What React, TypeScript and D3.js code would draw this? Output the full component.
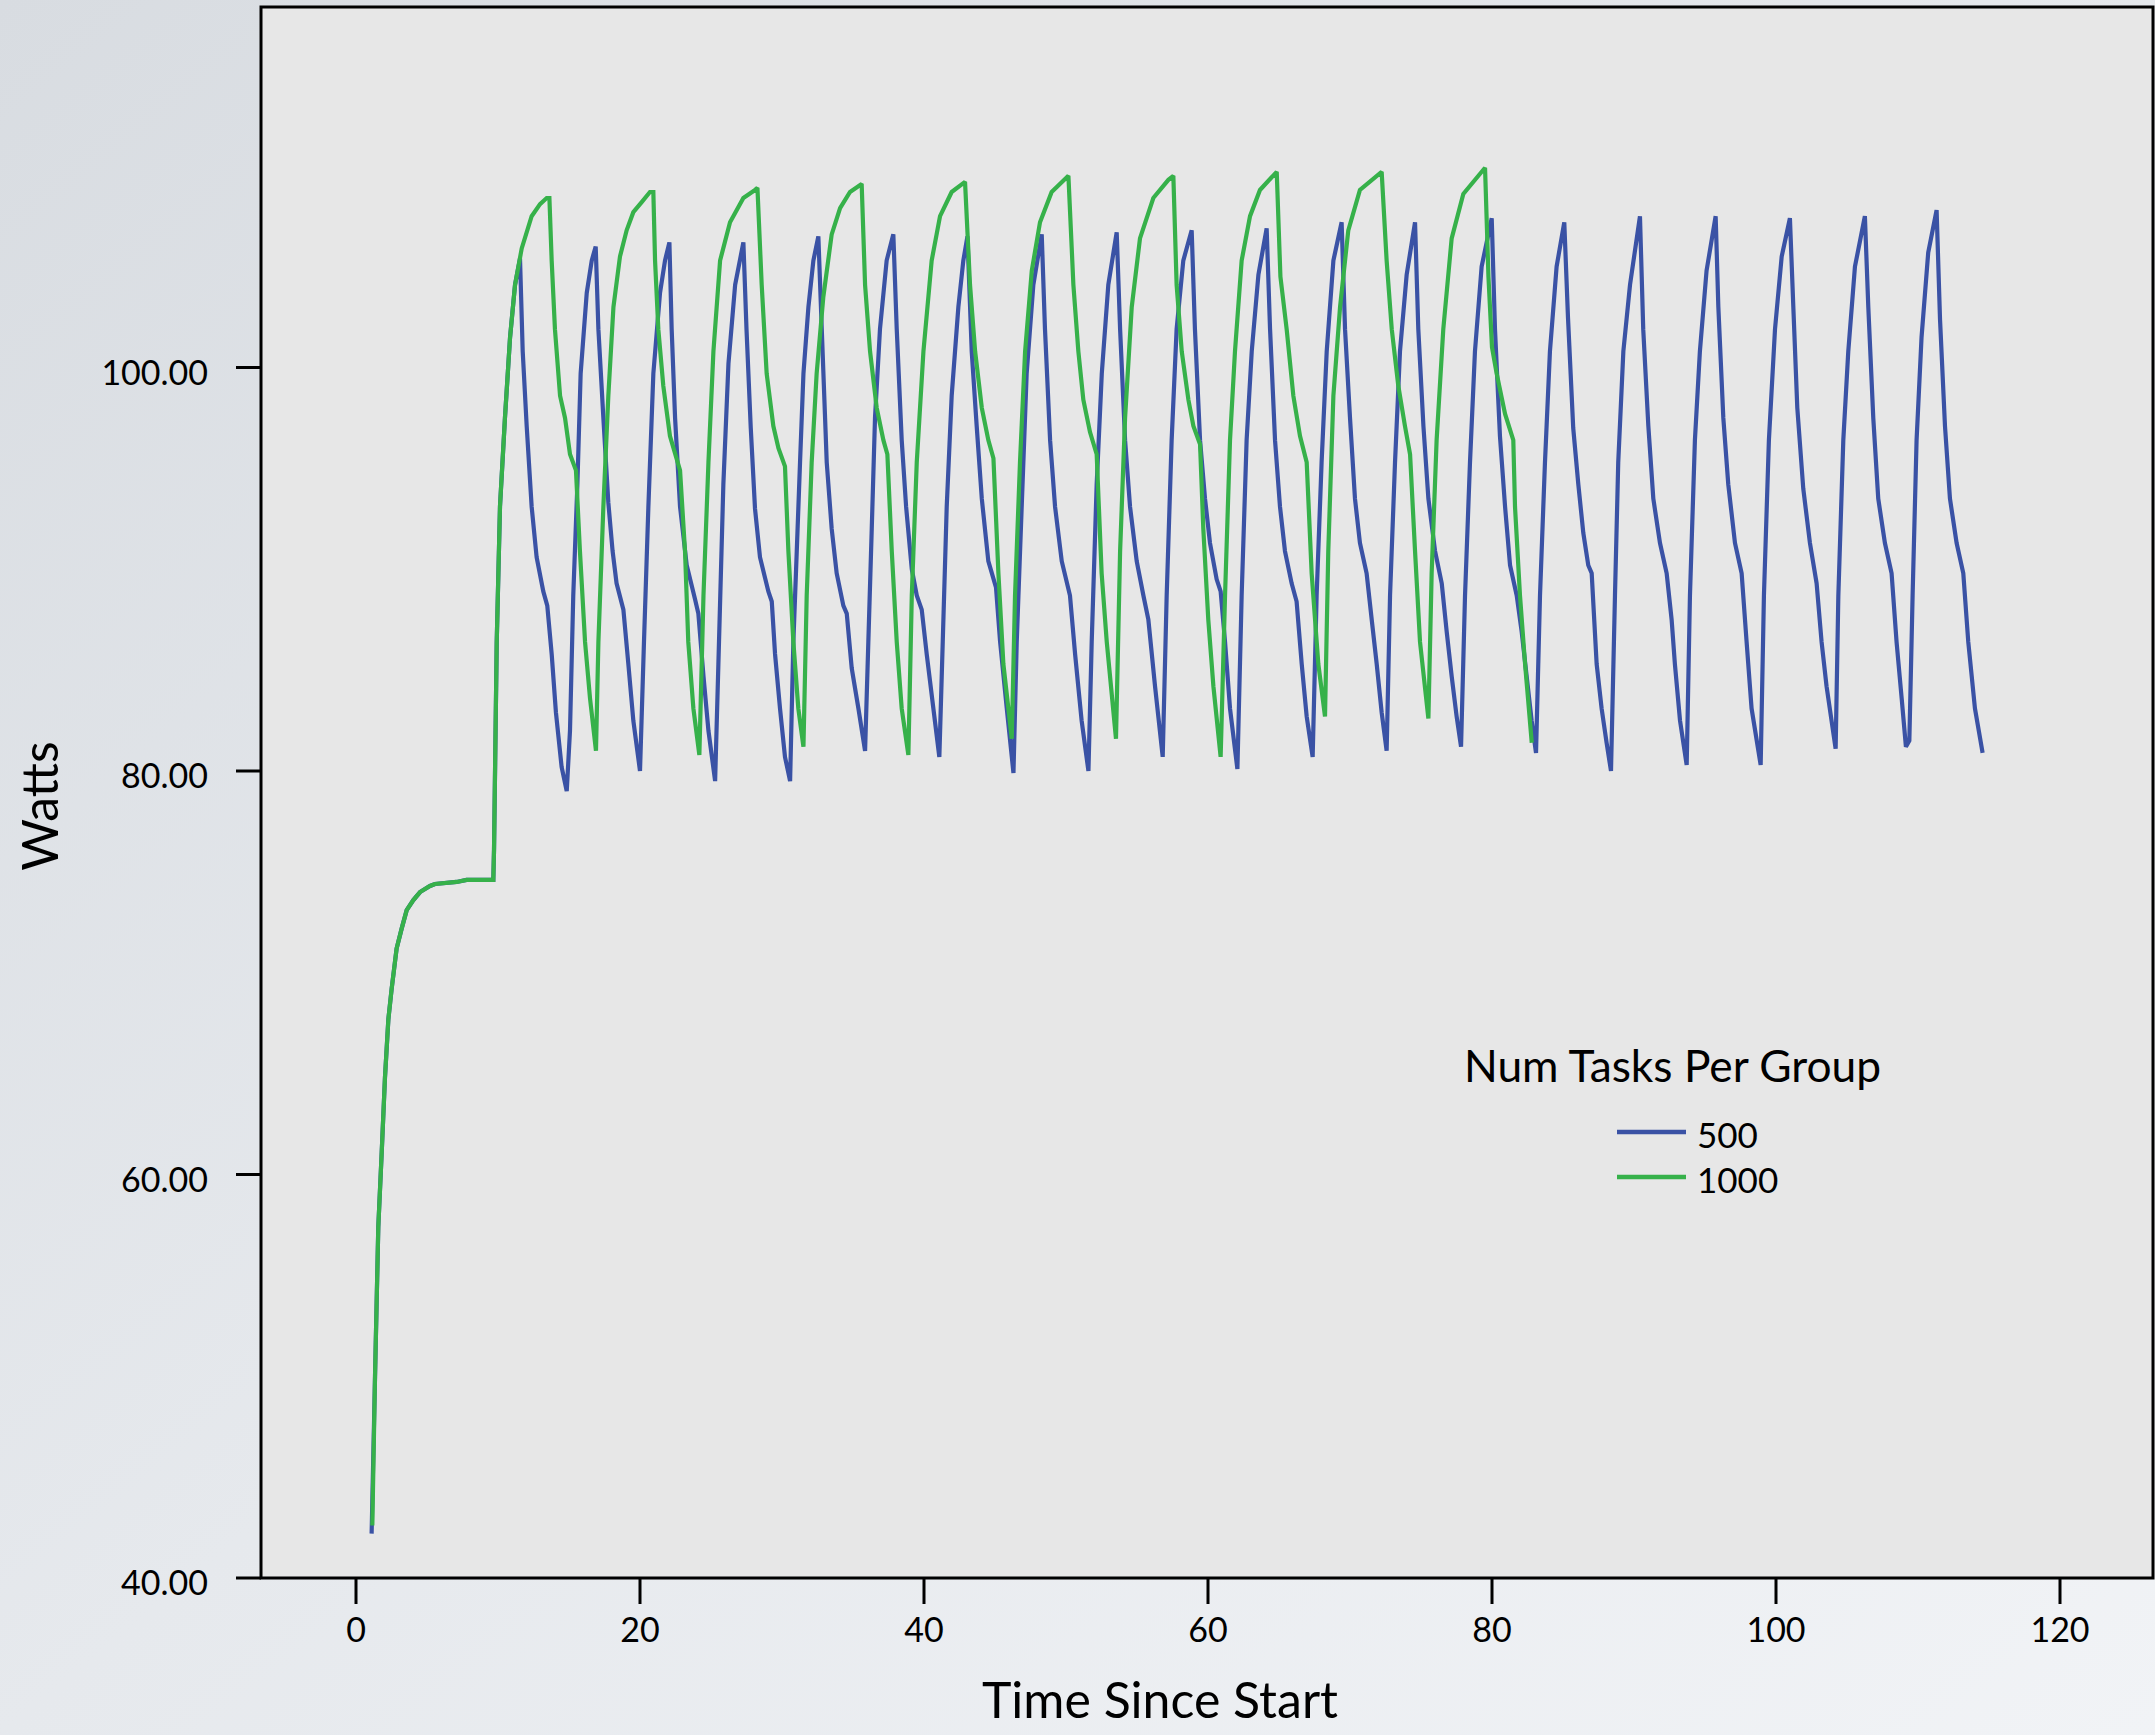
import React, { useEffect } from "react";
import * as d3 from "d3";

// ---- Data ----
const seriesNames = ["500", "1000"];
const xTicks = [0, 20, 40, 60, 80, 100, 120];
const yTicks = [40, 60, 80, 100];

const warmup: [number, number][] = [
  [1.34, 50.0], [1.57, 57.4], [1.81, 61.1], [2.04, 64.8], [2.28, 67.7], [2.51, 69.2],
  [2.86, 71.2], [3.22, 72.2], [3.57, 73.1], [4.04, 73.6], [4.51, 74.0], [5.21, 74.3],
  [5.56, 74.4], [7.09, 74.5], [7.79, 74.6], [8.97, 74.6], [9.67, 74.6], [9.72, 76.1],
  [9.91, 86.4], [10.14, 93.1], [10.49, 97.5], [10.85, 101.5], [11.2, 104.1],
];

const watts500: [number, number][] = [
  [1.1, 42.2], ...warmup, [11.55, 105.4],
  [11.74, 100.8], [12.02, 97.1], [12.37, 93.1], [12.72, 90.6], [13.19, 88.9], [13.47, 88.2], [13.78, 85.8], [14.08, 82.9], [14.48, 80.2], [14.84, 79.0],
  [15.07, 82.0], [15.3, 88.7], [15.59, 94.2], [15.82, 99.7], [16.25, 103.7], [16.6, 105.3], [16.88, 106.0],
  [17.07, 101.9], [17.42, 97.5], [17.77, 93.3], [18.07, 90.9], [18.35, 89.3], [18.83, 88.0], [19.18, 85.3], [19.53, 82.5], [20.0, 80.0],
  [20.28, 86.4], [20.59, 93.1], [20.94, 99.7], [21.41, 103.7], [21.76, 105.3], [22.07, 106.2],
  [22.23, 101.9], [22.47, 97.5], [22.82, 93.1], [23.29, 90.2], [23.88, 88.5], [24.11, 87.8], [24.47, 84.7], [24.82, 82.0], [25.29, 79.5],
  [25.52, 85.3], [25.87, 94.2], [26.23, 100.2], [26.7, 104.1], [27.28, 106.2],
  [27.5, 101.9], [27.8, 97.0], [28.1, 93.0], [28.45, 90.6], [29.04, 88.9], [29.28, 88.4], [29.51, 85.8], [29.86, 83.1], [30.21, 80.7], [30.57, 79.5],
  [30.8, 86.4], [31.04, 90.9], [31.27, 95.3], [31.51, 99.7], [31.86, 103.0], [32.21, 105.3], [32.56, 106.5],
  [32.8, 101.9], [33.15, 95.3], [33.5, 92.0], [33.85, 89.8], [34.32, 88.2], [34.56, 87.8], [34.91, 85.1], [35.38, 83.1], [35.85, 81.0],
  [36.08, 86.4], [36.32, 92.0], [36.55, 97.5], [36.9, 101.9], [37.37, 105.3], [37.84, 106.6],
  [38.08, 101.9], [38.43, 96.4], [38.74, 93.1], [39.14, 90.0], [39.49, 88.7], [39.84, 88.0], [40.19, 85.8], [40.66, 83.1], [41.08, 80.7],
  [41.32, 86.4], [41.6, 93.1], [41.95, 98.6], [42.42, 103.0], [42.77, 105.3], [43.06, 106.5],
  [43.36, 100.8], [43.71, 97.1], [44.07, 93.5], [44.53, 90.4], [45.07, 89.1], [45.36, 86.4], [45.83, 83.1], [46.3, 79.9],
  [46.53, 86.4], [46.88, 93.1], [47.23, 99.7], [47.7, 104.1], [48.29, 106.6],
  [48.52, 101.9], [48.88, 96.4], [49.23, 93.1], [49.7, 90.4], [50.28, 88.7], [50.64, 85.8], [51.1, 82.5], [51.58, 80.0],
  [51.81, 86.4], [52.16, 94.2], [52.52, 99.7], [52.98, 104.1], [53.57, 106.7],
  [53.81, 101.9], [54.16, 96.4], [54.51, 93.1], [54.98, 90.4], [55.45, 88.7], [55.8, 87.5], [56.27, 84.2], [56.81, 80.7],
  [57.09, 88.7], [57.44, 96.4], [57.79, 101.9], [58.26, 105.3], [58.85, 106.8],
  [59.08, 101.9], [59.44, 96.4], [59.79, 93.5], [60.14, 91.3], [60.61, 89.5], [60.89, 88.9], [61.2, 86.4], [61.55, 83.1], [62.07, 80.1],
  [62.37, 88.7], [62.72, 96.4], [63.08, 100.8], [63.55, 104.6], [64.13, 106.9],
  [64.37, 101.9], [64.72, 96.4], [65.07, 93.1], [65.42, 90.9], [65.89, 89.3], [66.24, 88.4], [66.6, 85.3], [66.95, 82.7], [67.37, 80.7],
  [67.65, 88.7], [68.0, 95.3], [68.36, 100.8], [68.83, 105.3], [69.41, 107.2],
  [69.65, 101.9], [70.0, 97.5], [70.35, 93.5], [70.7, 91.3], [71.17, 89.8], [71.53, 87.5], [71.88, 85.3], [72.23, 82.9], [72.58, 81.0],
  [72.82, 88.7], [73.17, 95.3], [73.52, 100.8], [73.99, 104.6], [74.58, 107.2],
  [74.81, 101.9], [75.17, 97.1], [75.52, 93.5], [75.99, 90.9], [76.46, 89.3], [76.81, 86.9], [77.16, 84.7], [77.51, 82.7], [77.82, 81.2],
  [78.1, 88.7], [78.45, 95.3], [78.8, 100.8], [79.27, 105.0], [79.98, 107.4],
  [80.21, 101.9], [80.56, 96.6], [80.92, 93.1], [81.27, 90.2], [81.74, 88.7], [82.09, 86.9], [82.44, 84.7], [82.79, 82.5], [83.1, 80.9],
  [83.38, 88.7], [83.73, 95.3], [84.08, 100.8], [84.55, 105.0], [85.09, 107.2],
  [85.35, 102.5], [85.72, 97.0], [86.08, 94.2], [86.43, 91.8], [86.78, 90.2], [87.02, 89.8], [87.37, 85.3], [87.72, 83.1], [88.07, 81.4], [88.38, 80.0],
  [88.66, 88.7], [88.89, 95.3], [89.25, 100.8], [89.72, 104.1], [90.42, 107.5],
  [90.65, 101.9], [91.01, 97.1], [91.36, 93.5], [91.83, 91.3], [92.3, 89.8], [92.65, 87.5], [92.88, 85.3], [93.24, 82.5], [93.71, 80.3],
  [93.94, 88.7], [94.29, 96.4], [94.64, 100.8], [95.11, 104.8], [95.75, 107.5],
  [95.94, 103.0], [96.29, 97.5], [96.64, 94.2], [97.11, 91.3], [97.58, 89.8], [97.93, 86.4], [98.28, 83.1], [98.92, 80.3],
  [99.15, 88.7], [99.5, 96.4], [99.93, 101.9], [100.4, 105.5], [100.98, 107.4],
  [101.22, 103.0], [101.5, 98.0], [101.92, 94.0], [102.39, 91.3], [102.86, 89.3], [103.21, 86.4], [103.56, 84.2], [104.2, 81.1],
  [104.39, 88.7], [104.74, 96.4], [105.09, 100.8], [105.56, 105.0], [106.26, 107.5],
  [106.5, 103.0], [106.85, 97.5], [107.2, 93.5], [107.67, 91.3], [108.14, 89.8], [108.49, 86.4], [108.85, 83.6], [109.15, 81.2], [109.39, 81.5],
  [109.62, 88.7], [109.9, 96.4], [110.25, 101.5], [110.72, 105.7], [111.31, 107.8],
  [111.55, 102.4], [111.9, 97.1], [112.25, 93.5], [112.72, 91.3], [113.19, 89.8], [113.54, 86.4], [114.01, 83.1], [114.55, 80.9],
];

const watts1000: [number, number][] = [
  [1.15, 42.6], ...warmup, [11.67, 105.9], [12.37, 107.5], [12.96, 108.1], [13.43, 108.4], [13.62, 108.4],
  [13.78, 105.3], [14.01, 101.9], [14.37, 98.6], [14.72, 97.5], [15.07, 95.7], [15.49, 94.9], [15.77, 90.9], [16.13, 86.4], [16.48, 83.6], [16.9, 81.0],
  [17.07, 86.4], [17.42, 93.1], [17.77, 98.6], [18.13, 103.0], [18.59, 105.5], [19.06, 106.8], [19.53, 107.7], [20.12, 108.2], [20.7, 108.7], [20.94, 108.7],
  [21.06, 105.3], [21.29, 101.9], [21.64, 99.1], [22.11, 96.6], [22.82, 94.9], [23.17, 90.9], [23.4, 86.4], [23.76, 83.1], [24.18, 80.8],
  [24.47, 88.7], [24.82, 95.3], [25.17, 100.8], [25.64, 105.3], [26.34, 107.2], [27.28, 108.4], [28.1, 108.8], [28.27, 108.9],
  [28.57, 104.1], [28.92, 99.7], [29.39, 97.1], [29.75, 96.0], [30.21, 95.1], [30.45, 90.9], [30.8, 86.4], [31.15, 83.1], [31.51, 81.2],
  [31.74, 88.7], [32.09, 95.3], [32.44, 99.7], [32.91, 103.5], [33.5, 106.6], [34.09, 107.9], [34.79, 108.7], [35.61, 109.1],
  [35.85, 104.1], [36.2, 100.8], [36.67, 98.0], [37.14, 96.4], [37.42, 95.7], [37.73, 90.9], [38.08, 86.4], [38.43, 83.1], [38.9, 80.8],
  [39.14, 88.7], [39.49, 95.3], [39.96, 100.8], [40.54, 105.3], [41.13, 107.5], [41.95, 108.7], [42.89, 109.2],
  [43.24, 104.1], [43.6, 100.8], [44.07, 98.0], [44.53, 96.4], [44.89, 95.5], [45.24, 89.8], [45.59, 85.3], [46.18, 81.6],
  [46.41, 88.7], [46.76, 95.3], [47.12, 100.8], [47.59, 104.8], [48.17, 107.2], [48.99, 108.7], [50.17, 109.5],
  [50.52, 104.1], [50.87, 100.8], [51.22, 98.4], [51.69, 96.8], [52.16, 95.7], [52.51, 89.8], [52.87, 86.4], [53.52, 81.6],
  [53.81, 90.9], [54.16, 97.5], [54.63, 103.0], [55.21, 106.4], [56.15, 108.4], [57.21, 109.3], [57.56, 109.5],
  [57.79, 104.1], [58.15, 100.8], [58.62, 98.4], [58.97, 97.1], [59.44, 96.2], [59.67, 92.0], [60.02, 87.5], [60.38, 84.2], [60.89, 80.7],
  [61.2, 88.7], [61.55, 96.4], [61.9, 100.8], [62.37, 105.3], [62.96, 107.5], [63.66, 108.8], [64.84, 109.7],
  [65.1, 104.5], [65.54, 101.9], [66.01, 98.6], [66.48, 96.6], [66.95, 95.3], [67.3, 89.8], [67.77, 85.3], [68.24, 82.7],
  [68.47, 90.9], [68.83, 98.6], [69.3, 103.0], [69.88, 106.8], [70.7, 108.8], [72.23, 109.7],
  [72.58, 105.3], [72.94, 101.9], [73.4, 99.1], [73.87, 97.1], [74.23, 95.7], [74.58, 90.9], [74.93, 86.4], [75.52, 82.6],
  [75.75, 89.8], [76.1, 96.4], [76.57, 101.9], [77.16, 106.4], [77.98, 108.6], [79.51, 109.9],
  [79.75, 104.5], [80.0, 101.0], [80.33, 99.7], [80.92, 97.7], [81.5, 96.4], [81.62, 93.1], [81.97, 88.7], [82.33, 85.3], [82.8, 81.4],
];

const seriesData = [watts500, watts1000];
const seriesColors = ["#3a52a5", "#36b14a"];

export default function App() {
  useEffect(() => {
    document.body.style.margin = "0";
  }, []);

  const W = 2155;
  const H = 1735;
  const frame = { left: 261, top: 7, right: 2153, bottom: 1578 };

  const x = d3.scaleLinear().domain([0, 120]).range([356, 2060]);
  const y = d3.scaleLinear().domain([40, 100]).range([1578, 367.5]);

  const line = d3
    .line<[number, number]>()
    .x((d) => x(d[0]))
    .y((d) => y(d[1]));

  const font = "Lato, 'Open Sans', sans-serif";

  return (
    <svg
      width={W}
      height={H}
      viewBox={`0 0 ${W} ${H}`}
      style={{ position: "absolute", left: 0, top: 0, display: "block" }}
    >
      <defs>
        <linearGradient id="bg" x1="0" y1="0" x2="1" y2="1">
          <stop offset="0" stopColor="#d8dce1" />
          <stop offset="0.5" stopColor="#e6e9ed" />
          <stop offset="1" stopColor="#f1f3f6" />
        </linearGradient>
      </defs>
      <rect x={0} y={0} width={W} height={H} fill="url(#bg)" />
      <rect
        x={frame.left}
        y={frame.top}
        width={frame.right - frame.left}
        height={frame.bottom - frame.top}
        fill="#e7e7e7"
      />

      {seriesData.map((data, i) => (
        <path
          key={seriesNames[i]}
          d={line(data) || ""}
          fill="none"
          stroke={seriesColors[i]}
          strokeWidth={4.2}
          strokeLinejoin="miter"
          strokeMiterlimit={2}
        />
      ))}

      <rect
        x={frame.left}
        y={frame.top}
        width={frame.right - frame.left}
        height={frame.bottom - frame.top}
        fill="none"
        stroke="#000"
        strokeWidth={3}
      />

      {yTicks.map((t) => (
        <g key={"y" + t}>
          <line x1={frame.left - 25} x2={frame.left} y1={y(t)} y2={y(t)} stroke="#000" strokeWidth={3} />
          <text x={208} y={y(t) + 17} textAnchor="end" fontFamily={font} fontSize={34} fill="#000">
            {t.toFixed(2)}
          </text>
        </g>
      ))}

      {xTicks.map((t) => (
        <g key={"x" + t}>
          <line x1={x(t)} x2={x(t)} y1={frame.bottom} y2={frame.bottom + 26} stroke="#000" strokeWidth={3} />
          <text x={x(t)} y={1642} textAnchor="middle" fontFamily={font} fontSize={34} fill="#000">
            {t}
          </text>
        </g>
      ))}

      <text x={1160} y={1718} textAnchor="middle" fontFamily={font} fontSize={50} fill="#000">
        Time Since Start
      </text>
      <text
        transform={`translate(58, 806) rotate(-90)`}
        textAnchor="middle"
        fontFamily={font}
        fontSize={50}
        fill="#000"
      >
        Watts
      </text>

      <text x={1464} y={1082} fontFamily={font} fontSize={44.3} fill="#000">
        Num Tasks Per Group
      </text>
      {seriesNames.map((name, i) => (
        <g key={"lg" + name}>
          <line
            x1={1617}
            x2={1686}
            y1={1132 + i * 45}
            y2={1132 + i * 45}
            stroke={seriesColors[i]}
            strokeWidth={4.5}
          />
          <text x={1697} y={1148 + i * 45} fontFamily={font} fontSize={35} fill="#000">
            {name}
          </text>
        </g>
      ))}
    </svg>
  );
}
